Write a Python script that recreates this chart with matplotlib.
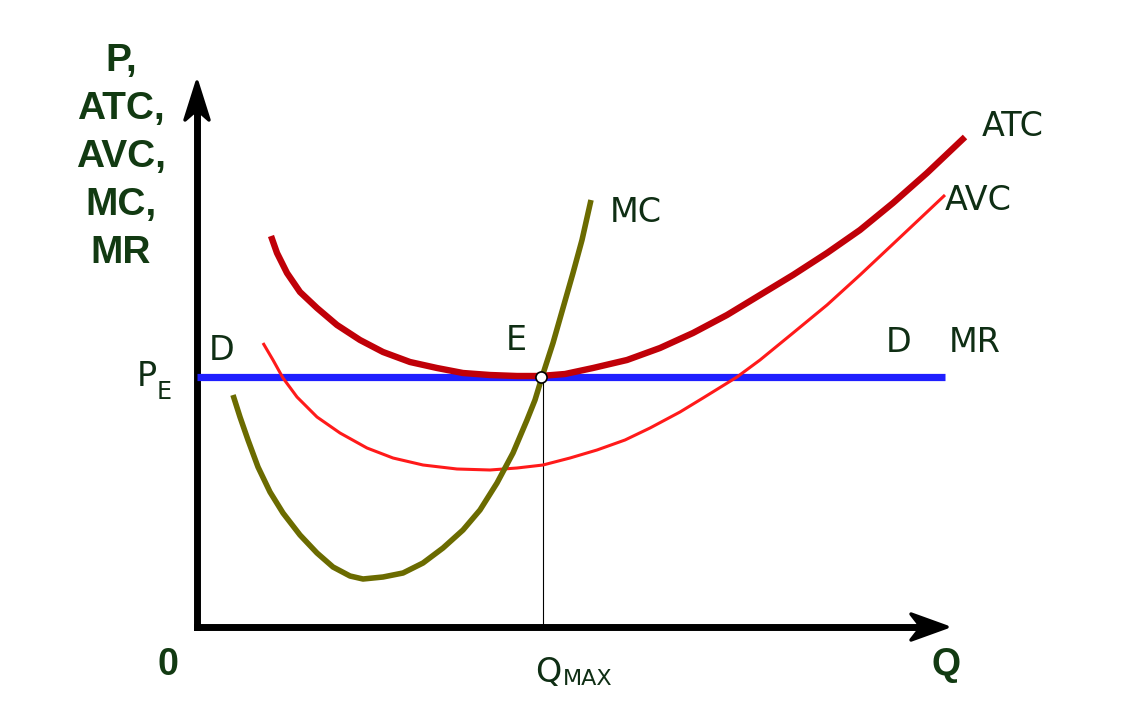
import numpy as np
import matplotlib
matplotlib.use('Agg')
import matplotlib.pyplot as plt

# values (Q across, price/cost up)
atc_q = [74, 80, 90, 103, 120, 140, 163, 186, 213, 240, 266, 293, 320, 343,
         368, 396, 430, 463, 496, 530, 563, 596, 630, 663, 696, 730, 768]
atc_p = [391, 374, 354, 335, 319, 302, 287, 275, 265, 259, 254, 252, 251, 251,
         253, 259, 267, 279, 294, 312, 332, 352, 374, 397, 424, 454, 490]

avc_q = [66, 76, 86, 100, 120, 143, 170, 196, 226, 260, 293, 320, 346, 373,
         400, 428, 453, 483, 506, 540, 563, 596, 630, 663, 696, 730, 748]
avc_p = [284, 267, 249, 230, 210, 194, 179, 169, 162, 158, 157, 159, 162, 169,
         177, 187, 199, 215, 229, 250, 267, 294, 322, 352, 383, 415, 432]

mc_q = [36, 43, 51, 61, 73, 86, 103, 120, 136, 153, 166, 186, 206, 226,
        246, 266, 283, 300, 316, 330, 338, 345, 356, 366, 376, 385, 394]
mc_p = [232, 210, 187, 160, 135, 114, 92, 74, 60, 51, 48, 50, 54, 64,
        79, 97, 117, 144, 174, 207, 227, 250, 284, 319, 354, 387, 427]

mr_q = [0, 748]
p_e = 250
q_max = 345

txt = '#0f2e14'
bold_col = '#123a12'

fig = plt.figure(figsize=(11.25, 7.07), dpi=100)
ax = fig.add_axes([0, 0, 1, 1])
ax.set_xlim(-197, 928)
ax.set_ylim(-80, 627)
ax.axis('off')

# axes with filled arrow heads
ax.plot([0, 0], [0, 512], color='black', lw=5, solid_capstyle='projecting', zorder=2)
ax.plot([0, 716], [0, 0], color='black', lw=5, solid_capstyle='projecting', zorder=2)
ax.fill([0, 12, 4, -4, -12], [545, 507, 514, 514, 507], color='black', lw=2.5,
        joinstyle='round', zorder=2)
ax.fill([750, 714, 721, 721, 714], [0, 13, 4, -4, -13], color='black', lw=2.5,
        joinstyle='round', zorder=2)

# curves
ax.plot(mr_q, [p_e, p_e], color='#1f1fff', lw=5.2, solid_capstyle='butt', zorder=3)
ax.plot(avc_q, avc_p, color='#ff1a1a', lw=2.2, solid_capstyle='butt', zorder=4)
ax.plot(atc_q, atc_p, color='#c00008', lw=4.6, solid_capstyle='butt', zorder=4)
ax.plot(mc_q, mc_p, color='#6b6b00', lw=4, solid_capstyle='butt', zorder=5)
ax.plot([q_max + 1, q_max + 1], [0, p_e], color='black', lw=0.8, zorder=3)
ax.plot([q_max - 1], [p_e], marker='o', ms=8, mfc='white', mec='black', mew=1.2, zorder=6)

# labels
ax.text(-76, 470, 'P,\nATC,\nAVC,\nMC,\nMR', ha='center', va='center', fontsize=28,
        fontweight='bold', family='Liberation Sans', color=bold_col, linespacing=1.42)
ax.text(-29, -38, '0', ha='center', va='center', fontsize=27, fontweight='bold',
        family='Liberation Sans', color=bold_col)
ax.text(749, -38, 'Q', ha='center', va='center', fontsize=27, fontweight='bold',
        family='Liberation Sans', color=bold_col)

reg = dict(family='DejaVu Sans', color=txt, fontsize=24, va='center')
ax.text(-60, 250, 'P', ha='left', **reg)
ax.text(-40, 235, 'E', ha='left', family='DejaVu Sans', color=txt, fontsize=17, va='center')
ax.text(338, -45, 'Q', ha='left', **reg)
ax.text(366, -52, 'MAX', ha='left', family='DejaVu Sans', color=txt, fontsize=16, va='center')
ax.text(12, 277, 'D', ha='left', **reg)
ax.text(309, 287, 'E', ha='left', **reg)
ax.text(689, 285, 'D', ha='left', **reg)
ax.text(752, 285, 'MR', ha='left', **reg)
ax.text(413, 414, 'MC', ha='left', **reg)
ax.text(785, 500, 'ATC', ha='left', **reg)
ax.text(748, 427, 'AVC', ha='left', **reg)

fig.savefig('out.png', dpi=100, facecolor='white')
